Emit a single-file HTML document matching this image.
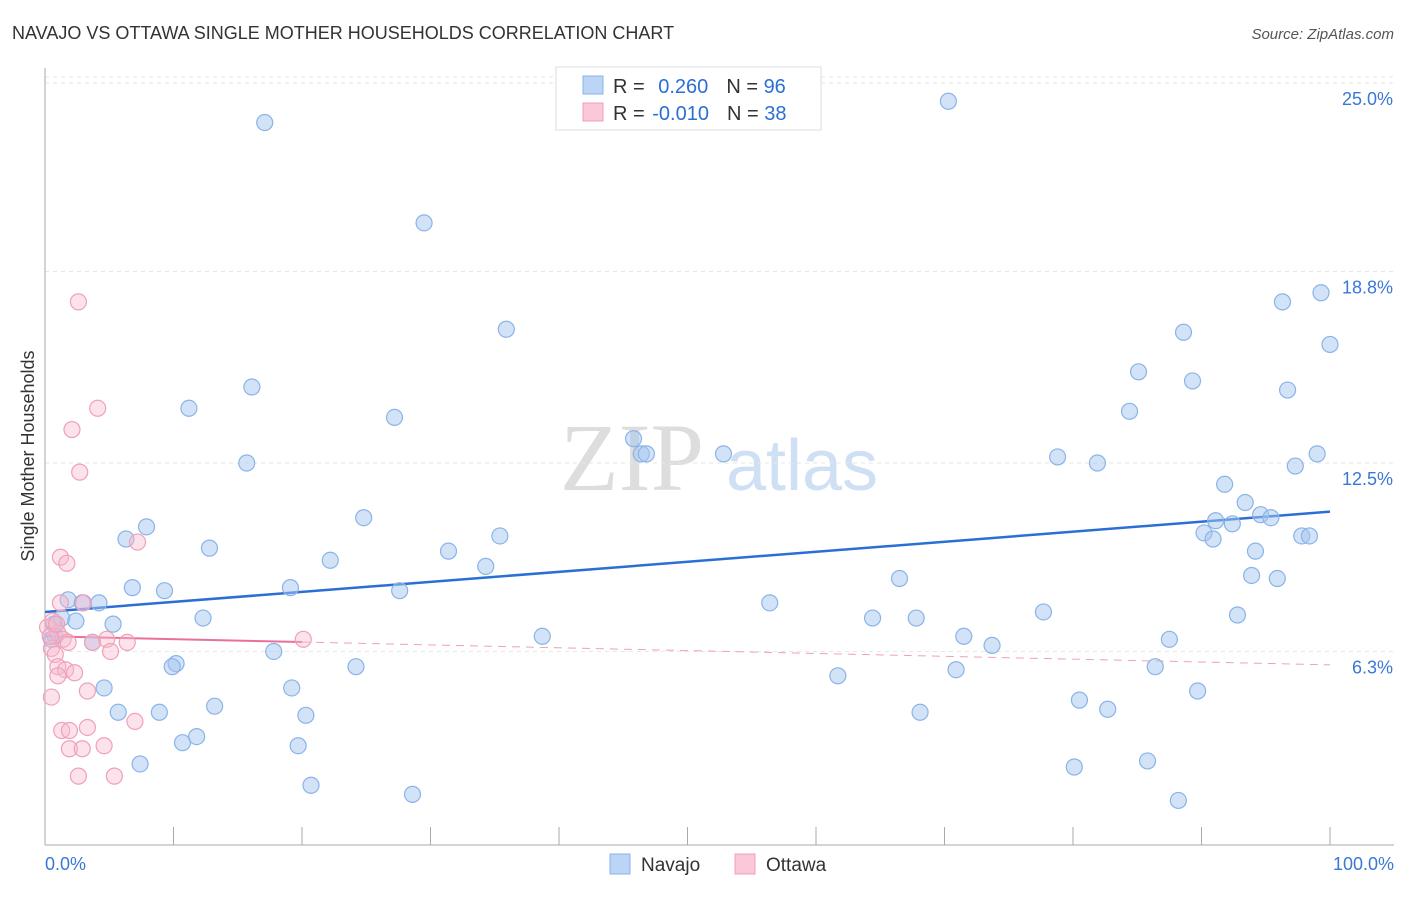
<!DOCTYPE html>
<html><head><meta charset="utf-8"><style>
body{margin:0;background:#fff;font-family:"Liberation Sans",sans-serif;}
</style></head><body>
<svg id="c" width="1406" height="892" xmlns="http://www.w3.org/2000/svg" font-family="Liberation Sans, sans-serif">
<text x="12" y="39" font-size="18" fill="#333">NAVAJO VS OTTAWA SINGLE MOTHER HOUSEHOLDS CORRELATION CHART</text>
<text x="1394" y="39" font-size="15" fill="#555" font-style="italic" text-anchor="end">Source: ZipAtlas.com</text>
<text x="34" y="456" font-size="18" fill="#333" text-anchor="middle" transform="rotate(-90 34 456)">Single Mother Households</text>
<g>
<text x="632" y="490" font-size="96" font-family="Liberation Serif, serif" fill="#ddd" text-anchor="middle">ZIP</text>
<text x="802" y="490" font-size="72" fill="#cfe0f5" text-anchor="middle">atlas</text>
</g>
<g id="grid"></g><g id="axes"></g><g id="trend"></g><g id="pts"></g>
<g>
<rect x="556" y="67" width="265" height="63" fill="#fff" stroke="#ddd"/>
<rect x="583" y="76" width="20" height="18" fill="#bcd4f5" stroke="#8ab4e8"/>
<text x="613" y="93" font-size="20" fill="#333">R = <tspan fill="#2b6fd6" dx="8">0.260</tspan><tspan dx="18" fill="#333">N = </tspan><tspan fill="#2b6fd6">96</tspan></text>
<rect x="583" y="103" width="20" height="18" fill="#fac8d8" stroke="#f0a0b8"/>
<text x="613" y="120" font-size="20" fill="#333">R = <tspan fill="#2b6fd6" dx="2">-0.010</tspan><tspan dx="18" fill="#333">N = </tspan><tspan fill="#2b6fd6">38</tspan></text>
</g>
<g>
<rect x="610" y="854" width="20" height="20" fill="#bcd4f5" stroke="#8ab4e8"/>
<text x="641" y="871" font-size="19" fill="#333">Navajo</text>
<rect x="735" y="854" width="20" height="20" fill="#fac8d8" stroke="#f0a0b8"/>
<text x="766" y="871" font-size="19" fill="#333">Ottawa</text>
</g>
</svg>
<script>
const yTicks=[6.3,12.5,18.8,25.0];
const yTickLabels=["6.3%","12.5%","18.8%","25.0%"];
const xTickLabels=["0.0%","100.0%"];
const navX=[17.1,70.3,29.5,35.9,16.1,11.2,27.2,15.7,45.8,46.4,46.8,52.8,7.9,6.3,12.8,24.8,31.4,35.4,34.3,22.2,6.8,9.3,19.1,27.6,1.8,2.9,4.2,1.3,2.4,5.3,12.3,3.7,0.7,0.8,0.5,38.7,17.8,10.2,9.9,24.2,4.6,19.2,5.7,8.9,13.2,20.3,10.7,11.8,19.7,7.4,20.7,28.6,56.4,66.5,64.4,67.8,71.5,73.7,70.9,61.7,68.1,77.7,78.8,81.9,80.5,82.7,80.1,85.8,88.2,85.1,84.4,88.6,89.3,96.3,99.3,100,96.7,99.0,97.3,91.8,93.4,94.6,95.4,91.1,92.4,90.2,90.9,94.2,97.8,98.4,93.9,95.9,92.8,87.5,86.4,89.7];
const navY=[23.7,24.4,20.4,16.9,15.0,14.3,14.0,12.5,13.3,12.8,12.8,12.8,10.4,10.0,9.7,10.7,9.6,10.1,9.1,9.3,8.4,8.3,8.4,8.3,8.0,7.9,7.9,7.4,7.3,7.2,7.4,6.6,7.2,6.8,6.7,6.8,6.3,5.9,5.8,5.8,5.1,5.1,4.3,4.3,4.5,4.2,3.3,3.5,3.2,2.6,1.9,1.6,7.9,8.7,7.4,7.4,6.8,6.5,5.7,5.5,4.3,7.6,12.7,12.5,4.7,4.4,2.5,2.7,1.4,15.5,14.2,16.8,15.2,17.8,18.1,16.4,14.9,12.8,12.4,11.8,11.2,10.8,10.7,10.6,10.5,10.2,10.0,9.6,10.1,10.1,8.8,8.7,7.5,6.7,5.8,5.0];
const ottX=[2.6,4.1,2.1,2.7,1.2,1.7,7.2,1.2,3.0,0.2,1.0,1.4,0.5,0.8,1.8,3.7,4.8,6.4,5.1,20.1,1.0,1.6,2.3,1.0,3.3,0.5,7.0,1.3,1.9,3.3,1.9,2.9,4.6,2.6,5.4,0.4,0.6,0.9];
const ottY=[17.8,14.3,13.6,12.2,9.4,9.2,9.9,7.9,7.9,7.1,6.9,6.7,6.4,6.2,6.6,6.6,6.7,6.6,6.3,6.7,5.8,5.7,5.6,5.5,5.0,4.8,4.0,3.7,3.7,3.8,3.1,3.1,3.2,2.2,2.2,6.8,7.3,7.2];
const navTrend=[7.6,10.9];
const ottTrend=[6.8,6.61,5.86];
const NS="http://www.w3.org/2000/svg";
const X=v=>45+v*12.85, Y=v=>843-v*30.4;
function mk(tag,attrs,parent){const e=document.createElementNS(NS,tag);for(const k in attrs)e.setAttribute(k,attrs[k]);document.getElementById(parent).appendChild(e);return e;}
yTicks.forEach((t,i)=>{
 const l=mk('line',{x1:45,x2:1394,y1:Y(t),y2:Y(t),stroke:'#e6e6e6','stroke-dasharray':'4 4'},'grid');
 
 
 const tx=mk('text',{x:1393,y:Y(t)+22,'font-size':18,fill:'#3a78d6','text-anchor':'end'},'axes');tx.textContent=yTickLabels[i];
 
 
});
const topG=mk('line',{x1:45,x2:1394,y1:Y(25.2),y2:Y(25.2),stroke:'#e6e6e6','stroke-dasharray':'4 4'},'grid');


const ya=mk('line',{x1:45,x2:45,y1:68,y2:845,stroke:'#aaa'},'axes');


const xa=mk('line',{x1:45,x2:1394,y1:845,y2:845,stroke:'#aaa'},'axes');


for(let i=0;i<=10;i++){const t=mk('line',{x1:X(i*10),x2:X(i*10),y1:827,y2:845,stroke:'#aaa'},'axes');
 
 }
[[0,'start'],[100,'end']].forEach((p,i)=>{const t=mk('text',{x:i?1394:45,y:870,'font-size':18,fill:'#3a78d6','text-anchor':p[1]},'axes');t.textContent=xTickLabels[i];
 
 });
navX.forEach((x,i)=>{const c=mk('circle',{cx:X(x),cy:Y(navY[i]),r:8,fill:'rgba(165,198,240,0.5)',stroke:'#8ab4e8','stroke-width':1.2},'pts');
 
 });
ottX.forEach((x,i)=>{const c=mk('circle',{cx:X(x),cy:Y(ottY[i]),r:8,fill:'rgba(248,185,205,0.4)',stroke:'#f0a0b8','stroke-width':1.2},'pts');
 
 });
const bt=mk('line',{x1:X(0),y1:Y(navTrend[0]),x2:X(100),y2:Y(navTrend[1]),stroke:'#2b6fd6','stroke-width':2.5},'trend');


const pt=mk('line',{x1:X(0),y1:Y(ottTrend[0]),x2:X(20),y2:Y(ottTrend[1]),stroke:'#e8709a','stroke-width':2},'trend');


const pd=mk('line',{x1:X(20),y1:Y(ottTrend[1]),x2:X(100),y2:Y(ottTrend[2]),stroke:'#f0a0b8','stroke-width':1,'stroke-dasharray':'8 6'},'trend');


</script>
</body></html>
